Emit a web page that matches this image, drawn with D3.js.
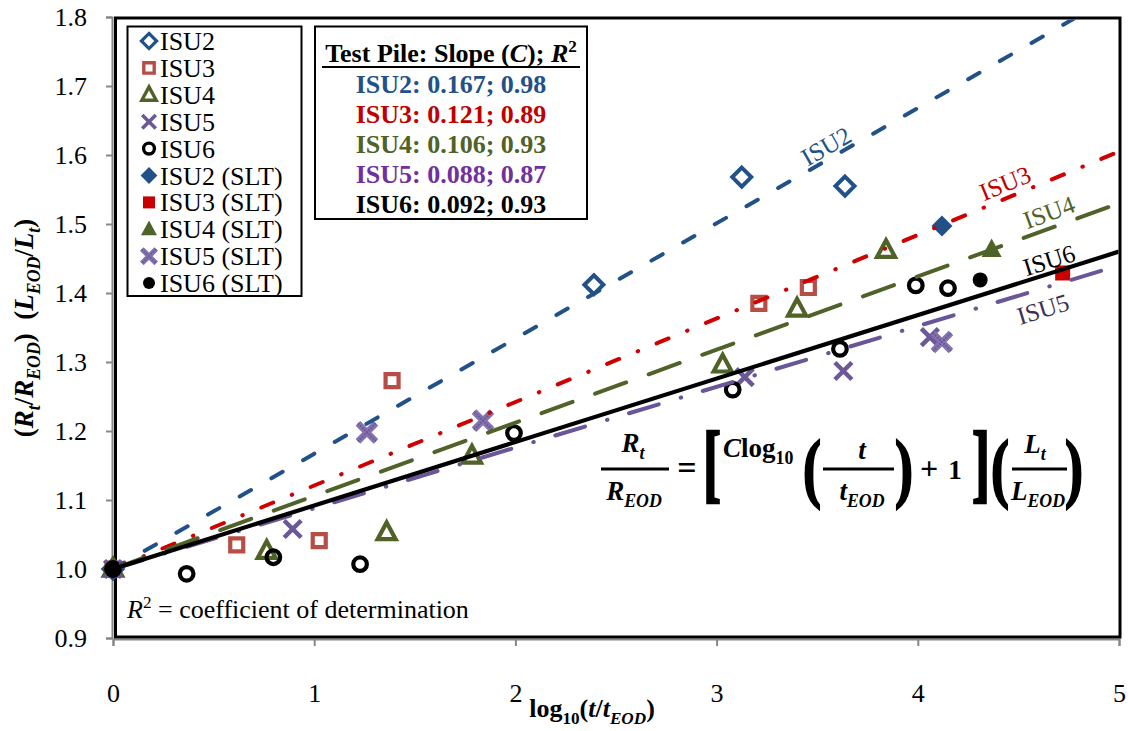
<!DOCTYPE html>
<html><head><meta charset="utf-8">
<script src="https://cdn.jsdelivr.net/npm/d3@7"></script>
<style>
body{margin:0;background:#fff}
text{font-family:"Liberation Serif",Tinos,"Times New Roman",Times,serif}
</style>
</head><body>
<svg id="c" width="1128" height="731"></svg>
<script>
// ---------------- DATA ----------------
const seriesNames = ["ISU2","ISU3","ISU4","ISU5","ISU6"];
const slopes = [0.167, 0.121, 0.106, 0.088, 0.092];
const rSquared = [0.98, 0.89, 0.93, 0.87, 0.93];
const xTicks = [0,1,2,3,4,5];
const yTicks = [0.9,1.0,1.1,1.2,1.3,1.4,1.5,1.6,1.7,1.8];

const isu2X = [0, 2.39, 3.125, 3.638];
const isu2Y = [1.0, 1.412, 1.568, 1.555];
const isu3X = [0, 0.615, 1.025, 1.387, 3.21, 3.456];
const isu3Y = [1.0, 1.035, 1.041, 1.273, 1.385, 1.408];
const isu4X = [0, 0.764, 1.36, 1.784, 3.03, 3.40, 3.842];
const isu4Y = [1.0, 1.026, 1.053, 1.164, 1.296, 1.377, 1.462];
const isu5X = [0, 0.893, 3.14, 3.63, 4.06];
const isu5Y = [1.0, 1.058, 1.278, 1.287, 1.336];
const isu6X = [0, 0.366, 0.797, 1.228, 1.993, 3.08, 3.613, 3.99, 4.15];
const isu6Y = [1.0, 0.993, 1.017, 1.007, 1.197, 1.26, 1.319, 1.411, 1.407];

const isu2SltX = [4.12];  const isu2SltY = [1.497];
const isu3SltX = [4.72];  const isu3SltY = [1.429];
const isu4SltX = [4.367]; const isu4SltY = [1.463];
const isu5SltX = [1.262, 1.839, 4.12]; const isu5SltY = [1.198, 1.215, 1.329];
const isu6SltX = [0, 4.31]; const isu6SltY = [1.0, 1.419];

// ---------------- STYLE ----------------
const C_BLUE="#22518A", C_RED_OPEN="#B84C47", C_RED_SLT="#C80000",
      C_GREEN="#4F6228", C_PURPLE="#6C5898", C_PURPLE_SLT="#8473AE", C_BLACK="#000";
const lineColors=[C_BLUE,"#D00000",C_GREEN,"#6A5599",C_BLACK];
const lineDash=["13,23.5","13,20,0.5,20","33,24","31,23,0.5,22.5",null];

const svg=d3.select("#c");
const x=d3.scaleLinear().domain([0,5]).range([113,1119]);
const y=d3.scaleLinear().domain([0.9,1.8]).range([638,17]);

function rich(sel, parts, fs){
  let shift=0;
  parts.forEach(p=>{
    const ts=sel.append("tspan").text(p.t);
    const target=p.sub?fs*0.26:(p.sup?-fs*0.38:0);
    ts.attr("dy",target-shift); shift=target;
    if(p.sub||p.sup) ts.attr("font-size",fs*0.66);
    if(p.i) ts.attr("font-style","italic");
    if(p.n) ts.attr("font-style","normal");
  });
  return sel;
}

// ---------------- AXES ----------------
const yAxis=d3.axisLeft(y).tickValues(yTicks).tickSize(6).tickPadding(19).tickFormat(d=>d.toFixed(1));
const gy=svg.append("g").attr("transform","translate(112,0)").call(yAxis);
const xAxis=d3.axisBottom(x).tickValues(xTicks).tickSize(7).tickPadding(38).tickFormat(d3.format("d"));
const gx=svg.append("g").attr("transform","translate(0,639)").call(xAxis);
[gx,gy].forEach(g=>{
  g.attr("font-family",null);
  g.selectAll("path.domain").attr("stroke","#868686").attr("stroke-width",2);
  g.selectAll(".tick line").attr("stroke","#868686").attr("stroke-width",2);
  g.selectAll(".tick text").attr("font-size",26).attr("fill","#000");
});
svg.append("rect").attr("x",115.5).attr("y",18).attr("width",1120-115.5).attr("height",637-18)
  .attr("fill","none").attr("stroke","#000").attr("stroke-width",3);

// ---------------- MARKERS ----------------
const shapes={
  diamond:{draw(c,s){const r=Math.sqrt(s);c.moveTo(0,-r);c.lineTo(r,0);c.lineTo(0,r);c.lineTo(-r,0);c.closePath();}},
  square:{draw(c,s){const r=Math.sqrt(s);c.rect(-r,-r,2*r,2*r);}},
  triangle:{draw(c,s){const r=Math.sqrt(s);c.moveTo(0,-r*1.1);c.lineTo(r,r*0.75);c.lineTo(-r,r*0.75);c.closePath();}},
  cross:{draw(c,s){const r=Math.sqrt(s);c.moveTo(-r,-r);c.lineTo(r,r);c.moveTo(r,-r);c.lineTo(-r,r);}},
  circle:{draw(c,s){const r=Math.sqrt(s);c.moveTo(r,0);c.arc(0,0,r,0,2*Math.PI);}}
};
const markerDefs=[
  {xs:isu2X,ys:isu2Y,shape:"diamond",r:9.5,fill:"none",stroke:C_BLUE,sw:4},
  {xs:isu3X,ys:isu3Y,shape:"square",r:6.5,fill:"none",stroke:C_RED_OPEN,sw:4.2},
  {xs:isu4X,ys:isu4Y,shape:"triangle",r:9,fill:"none",stroke:C_GREEN,sw:4.2},
  {xs:isu5X,ys:isu5Y,shape:"cross",r:8.5,fill:"none",stroke:C_PURPLE,sw:4.5},
  {xs:isu6X,ys:isu6Y,shape:"circle",r:6.8,fill:"none",stroke:C_BLACK,sw:4.2},
  {xs:isu2SltX,ys:isu2SltY,shape:"diamond",r:10.5,fill:C_BLUE,stroke:"none",sw:0},
  {xs:isu3SltX,ys:isu3SltY,shape:"square",r:7.5,fill:C_RED_SLT,stroke:"none",sw:0},
  {xs:isu4SltX,ys:isu4SltY,shape:"triangle",r:10,fill:C_GREEN,stroke:"none",sw:0},
  {xs:isu5SltX,ys:isu5SltY,shape:"cross",r:9,fill:"none",stroke:C_PURPLE_SLT,sw:6.5,slt5:true},
  {xs:isu6SltX,ys:isu6SltY,shape:"circle",r:7.5,fill:C_BLACK,stroke:"none",sw:0}
];
function drawMarker(g,m,px,py,scale){
  const p=d3.symbol().type(shapes[m.shape]).size((m.r*scale)**2)();
  g.append("path").attr("d",p).attr("transform",`translate(${px},${py})`)
   .attr("fill",m.fill).attr("stroke",m.stroke).attr("stroke-width",m.sw*scale)
   .attr("stroke-linejoin","miter");
  if(m.slt5){
    g.append("path").attr("d",p).attr("transform",`translate(${px},${py})`)
     .attr("fill","none").attr("stroke","#6A5697").attr("stroke-width",2.2*scale)
     .attr("stroke-dasharray","1.5,1.5");
  }
}
const mg=svg.append("g");
markerDefs.forEach(m=>{
  m.xs.forEach((v,i)=>drawMarker(mg,m,x(v),y(m.ys[i]),1));
});

// ---------------- TREND LINES ----------------
svg.append("clipPath").attr("id","clip").append("rect")
  .attr("x",117).attr("y",19.5).attr("width",1118.5-117).attr("height",636-19.5);
const lg=svg.append("g").attr("clip-path","url(#clip)");
const lineGen=d3.line().x(d=>x(d[0])).y(d=>y(d[1]));
slopes.forEach((c,i)=>{
  const pts=[[0,1],[5,1+5*c]];
  lg.append("path").attr("d",lineGen(pts)).attr("fill","none")
    .attr("stroke",lineColors[i]).attr("stroke-width",i===4?4.2:4)
    .attr("stroke-linecap",i===4?"butt":"round")
    .attr("stroke-dasharray",lineDash[i]);
});
drawMarker(svg.append("g"),markerDefs[9],x(isu6SltX[0]),y(isu6SltY[0]),1);

// line labels
const lineLabels=[
  {t:"ISU2",cx:826,cy:146,c:C_BLUE,s:0},
  {t:"ISU3",cx:1005,cy:183,c:"#C00000",s:1},
  {t:"ISU4",cx:1049,cy:212,c:C_GREEN,s:2},
  {t:"ISU6",cx:1049,cy:260,c:"#000",s:4},
  {t:"ISU5",cx:1043,cy:309,c:"#3F3151",s:3}
];
lineLabels.forEach(L=>{
  const ang=-Math.atan(slopes[L.s]*(y(1)-y(2))/(x(1)-x(0)))*180/Math.PI;
  svg.append("text").attr("transform",`translate(${L.cx},${L.cy}) rotate(${ang})`)
    .attr("text-anchor","middle").attr("dy","0.35em").attr("font-size",25)
    .attr("fill",L.c).text(L.t);
});

// ---------------- LEGEND ----------------
svg.append("rect").attr("x",127.5).attr("y",26.5).attr("width",174).attr("height",269.5)
  .attr("fill","#fff").attr("stroke","#000").attr("stroke-width",2);
const legendLabels=["ISU2","ISU3","ISU4","ISU5","ISU6","ISU2 (SLT)","ISU3 (SLT)","ISU4 (SLT)","ISU5 (SLT)","ISU6 (SLT)"];
const legG=svg.append("g");
legendLabels.forEach((t,i)=>{
  const cy=41+i*26.9;
  drawMarker(legG,markerDefs[i],149,cy,0.8);
  legG.append("text").attr("x",160).attr("y",cy+9).attr("font-size",26).text(t);
});

// ---------------- TABLE BOX ----------------
svg.append("rect").attr("x",315).attr("y",26.5).attr("width",272).attr("height",192.5)
  .attr("fill","#fff").attr("stroke","#000").attr("stroke-width",2);
const hdr=svg.append("text").attr("x",451).attr("y",62).attr("text-anchor","middle")
  .attr("font-size",26).attr("font-weight","bold");
rich(hdr,[{t:"Test Pile: Slope ("},{t:"C",i:true},{t:"); "},{t:"R",i:true},{t:"2",sup:true}],26);
svg.append("line").attr("x1",322).attr("x2",580).attr("y1",67).attr("y2",67)
  .attr("stroke","#000").attr("stroke-width",2);
const tableColors=[C_BLUE,"#C00000",C_GREEN,"#7030A0","#000"];
seriesNames.forEach((n,i)=>{
  svg.append("text").attr("x",451).attr("y",93+i*30).attr("text-anchor","middle")
    .attr("font-size",26).attr("font-weight","bold").attr("fill",tableColors[i])
    .text(`${n}: ${slopes[i].toFixed(3)}; ${rSquared[i].toFixed(2)}`);
});

const note=svg.append("text").attr("x",127).attr("y",618).attr("font-size",26);
rich(note,[{t:"R",i:true},{t:"2",sup:true},{t:" = coefficient of determination"}],26);

// ---------------- AXIS TITLES ----------------
const xt=svg.append("text").attr("x",592).attr("y",717).attr("text-anchor","middle")
  .attr("font-size",26).attr("font-weight","bold");
rich(xt,[{t:"log"},{t:"10",sub:true},{t:"("},{t:"t",i:true},{t:"/"},{t:"t",i:true},{t:"EOD",sub:true,i:true},{t:")"}],26);
const yt=svg.append("text").attr("transform","translate(33,328) rotate(-90)").attr("text-anchor","middle")
  .attr("font-size",27).attr("font-weight","bold");
rich(yt,[{t:"("},{t:"R",i:true},{t:"t",sub:true,i:true},{t:"/"},{t:"R",i:true},{t:"EOD",sub:true,i:true},{t:")\u00A0\u00A0("},
  {t:"L",i:true},{t:"EOD",sub:true,i:true},{t:"/"},{t:"L",i:true},{t:"t",sub:true,i:true},{t:")"}],27);

// ---------------- EQUATION ----------------
const eq=svg.append("g").attr("font-weight","bold").attr("font-style","italic");
const EF=27;
function eqText(cx,base,parts,anchor){
  const t=eq.append("text").attr("x",cx).attr("y",base).attr("text-anchor",anchor||"middle").attr("font-size",EF);
  rich(t,parts,EF); return t;
}
function bigGlyph(ch,cx,top,bottom){
  const fs=40, s=(bottom-top)/(0.87*fs), base=top+0.69*fs*s;
  eq.append("text").attr("transform",`translate(${cx},${base}) scale(1.35,${s})`)
    .attr("text-anchor","middle").attr("font-size",fs).attr("font-style","normal")
    .attr("stroke","#000").attr("stroke-width",1.2).text(ch);
}
function bar(x1,x2){eq.append("line").attr("x1",x1).attr("x2",x2).attr("y1",469).attr("y2",469).attr("stroke","#000").attr("stroke-width",3);}
eqText(633,452,[{t:"R"},{t:"t",sub:true}]);
bar(601,669);
eqText(634,500,[{t:"R"},{t:"EOD",sub:true}]);
eq.append("text").attr("x",687).attr("y",479).attr("text-anchor","middle").attr("font-size",34).attr("font-style","normal").text("=");
bigGlyph("[",712,432,507);
eqText(723,457,[{t:"C"},{t:"log",n:true},{t:"10",sub:true,n:true}],"start");
bigGlyph("(",812,440,507);
eqText(862,459,[{t:"t"}]);
bar(823,894);
eqText(862,500,[{t:"t"},{t:"EOD",sub:true}]);
bigGlyph(")",904,440,507);
eq.append("text").attr("x",929).attr("y",479).attr("text-anchor","middle").attr("font-size",32).attr("font-style","normal").text("+");
eq.append("text").attr("x",955).attr("y",479).attr("text-anchor","middle").attr("font-size",EF).attr("font-style","normal").text("1");
bigGlyph("]",981,432,507);
bigGlyph("(",1000,440,507);
eqText(1035,453,[{t:"L"},{t:"t",sub:true}]);
bar(1012,1067);
eqText(1038,500,[{t:"L"},{t:"EOD",sub:true}]);
bigGlyph(")",1074,440,507);
</script>
</body></html>
